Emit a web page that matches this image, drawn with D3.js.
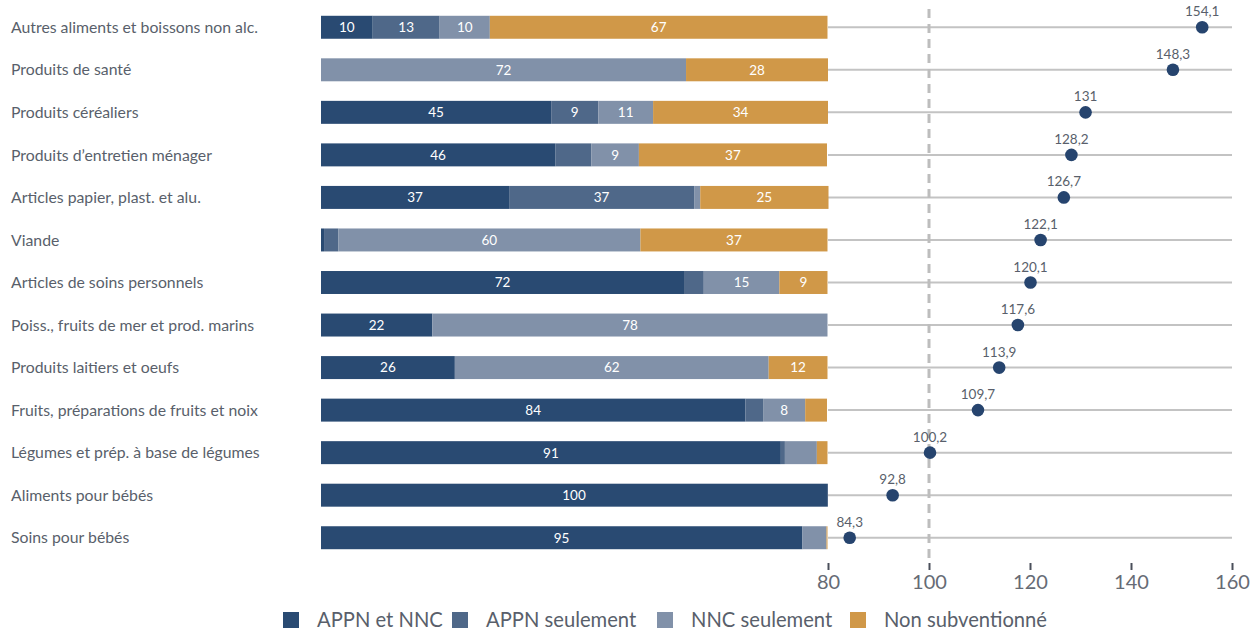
<!DOCTYPE html>
<html><head><meta charset="utf-8">
<script src="https://cdn.jsdelivr.net/npm/d3@7"></script>
<style>body{margin:0;background:#fff;}svg{display:block;font-family:Lato,"Open Sans",sans-serif;}</style>
</head><body><svg id="c" width="1260" height="631"></svg>
<script>
const categories = ["Autres aliments et boissons non alc.","Produits de santé","Produits céréaliers","Produits d’entretien ménager","Articles papier, plast. et alu.","Viande","Articles de soins personnels","Poiss., fruits de mer et prod. marins","Produits laitiers et oeufs","Fruits, préparations de fruits et noix","Légumes et prép. à base de légumes","Aliments pour bébés","Soins pour bébés"];
const seriesNames = ["APPN et NNC","APPN seulement","NNC seulement","Non subventionné"];
const appnEtNnc   = [10.2, 0,   45.4, 46.2, 37.1, 0.6, 71.6, 21.9, 26.4, 83.7, 90.7, 99.8, 94.9];
const appnSeul    = [13.2, 0,   9.3,  7.1,  36.5, 2.8, 3.9,  0.1,  0,    3.5,  0.8,  0.2,  0.1];
const nncSeul     = [9.9,  72.0,10.8, 9.4,  1.2,  59.6,14.9, 77.9, 61.9, 8.3,  6.3,  0,    4.7];
const nonSubv     = [66.6, 28.0,34.5, 37.1, 25.3, 36.9,9.5,  0,    11.6, 4.3,  2.1,  0,    0.2];
const shownLabels = [[10,13,10,67],[null,null,72,28],[45,9,11,34],[46,null,9,37],[37,37,null,25],[null,null,60,37],[72,null,15,9],[22,null,78,null],[26,null,62,12],[84,null,8,null],[91,null,null,null],[100,null,null,null],[95,null,null,null]];
const indexValues = [154.1,148.3,131,128.2,126.7,122.1,120.1,117.6,113.9,109.7,100.2,92.8,84.3];
const axisTicks = [80,100,120,140,160];
const colors = ["#294a72","#4f6889","#8191a9","#d09848"];

const svg = d3.select("#c");
const textCol = "#595f6b";
const y = d3.scaleBand().domain(categories).range([6, 559]).paddingInner(0.46).paddingOuter(0.23);
const xb = d3.scaleLinear().domain([0,100]).range([321,828]);
const xd = d3.scaleLinear().domain([80,160]).range([828,1232]);

const rows = categories.map((c,i)=>({cat:c, vals:[appnEtNnc[i],appnSeul[i],nncSeul[i],nonSubv[i]], labels:shownLabels[i], idx:indexValues[i]}));
const stack = d3.stack().keys([0,1,2,3]).value((d,k)=>d.vals[k]);
const stacked = stack(rows);

// gridlines
svg.append("g").selectAll("line").data(rows).join("line")
  .attr("x1", xd(80)).attr("x2", xd(160))
  .attr("y1", d=>y(d.cat)+y.bandwidth()/2).attr("y2", d=>y(d.cat)+y.bandwidth()/2)
  .attr("stroke","#c3c3c3").attr("stroke-width",2);

// dashed reference line
svg.append("line").attr("x1",xd(100)).attr("x2",xd(100)).attr("y1",9).attr("y2",558)
  .attr("stroke","#bdbdbd").attr("stroke-width",3).attr("stroke-dasharray","9,6");

// bars
const sg = svg.append("g").selectAll("g").data(stacked).join("g").attr("fill",(d,i)=>colors[i]);
sg.selectAll("rect").data(d=>d.map(p=>({p, key:d.key}))).join("rect")
  .attr("x", d=>xb(d.p[0])).attr("width", d=>Math.max(0,xb(d.p[1])-xb(d.p[0])))
  .attr("y", d=>y(d.p.data.cat)).attr("height", y.bandwidth());
// bar labels
sg.selectAll("text").data(d=>d.map(p=>({p, key:d.key})).filter(d=>d.p.data.labels[d.key]!=null)).join("text")
  .attr("x", d=>(xb(d.p[0])+xb(d.p[1]))/2).attr("y", d=>y(d.p.data.cat)+y.bandwidth()/2)
  .attr("dy","0.36em").attr("text-anchor","middle").attr("fill","#fff").attr("font-size",13.5)
  .text(d=>d.p.data.labels[d.key]);

// category labels
svg.append("g").selectAll("text").data(rows).join("text")
  .attr("x",11).attr("y", d=>y(d.cat)+y.bandwidth()/2).attr("dy","0.36em")
  .attr("fill",textCol).attr("font-size",15.8).text(d=>d.cat);

// dots
const fmt = v => String(v).replace(".",",");
svg.append("g").selectAll("circle").data(rows).join("circle")
  .attr("cx", d=>xd(d.idx)).attr("cy", d=>y(d.cat)+y.bandwidth()/2).attr("r",6.3).attr("fill","#26446e");
svg.append("g").selectAll("text").data(rows).join("text")
  .attr("x", d=>xd(d.idx)).attr("y", d=>y(d.cat)+y.bandwidth()/2-11)
  .attr("text-anchor","middle").attr("fill",textCol).attr("font-size",13.5).text(d=>fmt(d.idx));

// axis
const ax = svg.append("g").attr("transform","translate(0,563)")
  .call(d3.axisBottom(xd).tickValues(axisTicks).tickSize(7).tickPadding(5).tickFormat(d3.format("d")));
ax.select(".domain").remove();
ax.selectAll(".tick line").attr("stroke","#4a4f5a").attr("stroke-width",2);
ax.selectAll(".tick text").attr("fill","#666b75").attr("font-size",20).attr("font-family","Lato, sans-serif");

// legend
const legX = [283,452,657,850];
const lg = svg.append("g").selectAll("g").data(seriesNames).join("g").attr("transform",(d,i)=>`translate(${legX[i]},612)`);
lg.append("rect").attr("width",16).attr("height",16).attr("fill",(d,i)=>colors[i]);
lg.append("text").attr("x",34).attr("y",8).attr("dy","0.36em").attr("fill",textCol).attr("font-size",20.2).text(d=>d);
</script></body></html>
